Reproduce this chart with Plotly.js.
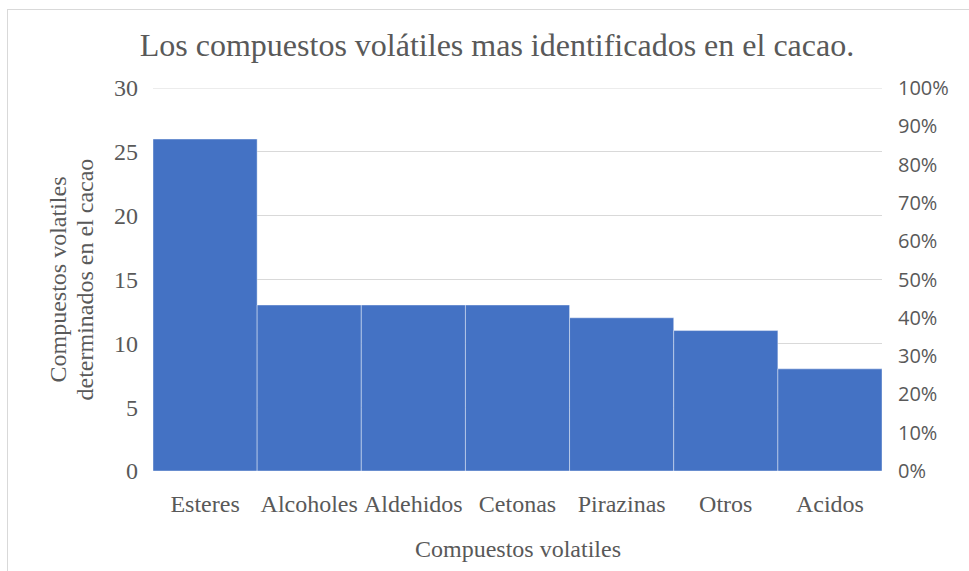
<!DOCTYPE html>
<html>
<head>
<meta charset="utf-8">
<script src="https://cdn.plot.ly/plotly-3.0.1.min.js"></script>
<style>
  html, body { margin: 0; padding: 0; background: #ffffff; overflow: hidden; }
  #frame { position: absolute; left: 7px; top: 9px; width: 1000px; height: 620px;
           border-left: 1px solid #d9d9d9; border-top: 1px solid #d9d9d9; }
  #chart { position: absolute; left: 0; top: 0; width: 969px; height: 571px; }
</style>
</head>
<body>
<div id="frame"></div>
<div id="chart"></div>
<script>
// Compound families and how many volatile compounds of each were reported
const categories = ['Esteres', 'Alcoholes', 'Aldehidos', 'Cetonas', 'Pirazinas', 'Otros', 'Acidos'];
const counts = [26, 13, 13, 13, 12, 11, 8];
const countTicks = [0, 5, 10, 15, 20, 25, 30];
const percentTicks = [0, 0.1, 0.2, 0.3, 0.4, 0.5, 0.6, 0.7, 0.8, 0.9, 1.0];
const yTitleLines = ['Compuestos volatiles', 'determinados en el cacao'];

const serif = 'Liberation Serif';
const sans = 'Open Sans';
const grey = '#595959';

// plot area in pixels, used to place the free-standing labels
const plotLeft = 153, plotRight = 882, plotTop = 88, plotBottom = 471;
const plotW = plotRight - plotLeft, plotH = plotBottom - plotTop;
const px = x => (x - plotLeft) / plotW;
const py = y => (plotBottom - y) / plotH;

const bars = {
  type: 'bar',
  x: categories,
  y: counts,
  marker: { color: '#4472C4', line: { color: 'rgba(255,255,255,0.4)', width: 1 } },
  hoverinfo: 'x+y'
};

// empty series that hosts the percentage scale on the right
const percentScale = {
  type: 'scatter', mode: 'lines',
  x: [], y: [],
  yaxis: 'y2', hoverinfo: 'skip', showlegend: false
};

const layout = {
  width: 969,
  height: 571,
  margin: { l: plotLeft, r: 969 - plotRight, t: plotTop, b: 571 - plotBottom },
  paper_bgcolor: 'rgba(0,0,0,0)',
  plot_bgcolor: 'rgba(0,0,0,0)',
  bargap: 0,
  showlegend: false,
  title: {
    text: 'Los compuestos volátiles mas identificados en el cacao.',
    font: { family: serif, size: 32, color: grey },
    x: 497 / 969, xanchor: 'center',
    y: 1 - 45 / 571, yanchor: 'middle'
  },
  xaxis: {
    type: 'category',
    tickfont: { family: serif, size: 24, color: grey },
    ticks: '', showline: false, showgrid: false,
    ticklabelstandoff: 16
  },
  yaxis: {
    range: [0, 30],
    tickvals: countTicks,
    tickfont: { family: serif, size: 24, color: grey },
    showgrid: true, gridcolor: '#d9d9d9', gridwidth: 1,
    zeroline: false, showline: false, ticks: '',
    ticklabelstandoff: 14
  },
  yaxis2: {
    overlaying: 'y', side: 'right', anchor: 'x',
    range: [0, 1],
    tickvals: percentTicks,
    tickformat: '.0%',
    tickfont: { family: sans, size: 20, color: grey },
    showgrid: false, zeroline: false, showline: false, ticks: '',
    ticklabelstandoff: 15
  },
  shapes: [
    { type: 'line', xref: 'paper', yref: 'y', x0: 0, x1: 1, y0: 30, y1: 30,
      line: { color: '#d9d9d9', width: 1 }, layer: 'below' }
  ],
  annotations: [
    {
      text: yTitleLines[0],
      xref: 'paper', yref: 'paper',
      x: px(57), y: 0.5, xanchor: 'center', yanchor: 'middle',
      textangle: -90, showarrow: false,
      font: { family: serif, size: 24, color: grey }
    },
    {
      text: yTitleLines[1],
      xref: 'paper', yref: 'paper',
      x: px(84), y: 0.5, xanchor: 'center', yanchor: 'middle',
      textangle: -90, showarrow: false,
      font: { family: serif, size: 24, color: grey }
    },
    {
      text: 'Compuestos volatiles',
      xref: 'paper', yref: 'paper',
      x: px(518), y: py(549), xanchor: 'center', yanchor: 'middle',
      showarrow: false,
      font: { family: serif, size: 24, color: grey }
    }
  ]
};

Plotly.newPlot('chart', [bars, percentScale], layout, { displayModeBar: false, staticPlot: true });
</script>
</body>
</html>
